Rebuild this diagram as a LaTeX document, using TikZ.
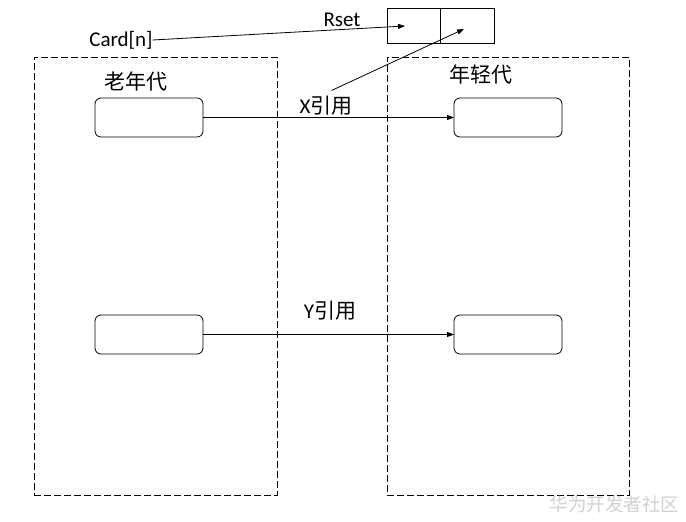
\documentclass[tikz,border=0pt]{standalone}
\usepackage{fontspec}
\setmainfont{Carlito}
\newfontfamily\cjk{Noto Sans CJK SC}
\usetikzlibrary{arrows.meta}
\begin{document}
\begin{tikzpicture}[x=1pt,y=-1pt,
  every node/.style={inner sep=0pt, outer sep=0pt},
  txt/.style={font=\fontsize{21}{24}\selectfont},
  cjktxt/.style={font=\cjk\fontsize{21}{24}\selectfont},
  region/.style={draw, line width=0.8pt, dash pattern=on 7pt off 3pt},
  objbox/.style={draw, line width=0.8pt, rounded corners=6pt, minimum width=108pt, minimum height=39pt},
  cell/.style={draw, line width=0.8pt, minimum height=35pt},
  ref/.style={line width=0.8pt, -{Triangle[length=7pt,width=5pt]}},
  wm/.style={font=\cjk\fontsize{18.5}{21}\selectfont, text=black!18}
]
\useasboundingbox (0,0) rectangle (686,522);
\fill[white] (0,0) rectangle (686,522);

% regions
\node[region, minimum width=243pt, minimum height=438pt] (old) at (155.5,276) {};
\node[region, minimum width=242pt, minimum height=438pt] (young) at (508,276) {};

% Rset cells
\node[cell, minimum width=53pt] (cellA) at (413.5,25.5) {};
\node[cell, minimum width=54pt] (cellB) at (467,25.5) {};

% labels
\node[txt] (rset) at (342,20) {Rset};
\node[txt] (card) at (121,40) {Card[n]};
\node[cjktxt] (oldlbl) at (136,81) {老年代};
\node[cjktxt] (younglbl) at (481,74) {年轻代};
\node[txt] (xlbl) at (326,106) {X{\cjk 引用}};
\node[txt] (ylbl) at (330,311) {Y{\cjk 引用}};

% object boxes
\node[objbox] (o1) at (149,117.5) {};
\node[objbox] (y1) at (508,117.5) {};
\node[objbox] (o2) at (149,334.5) {};
\node[objbox] (y2) at (508,334.5) {};

% references
\draw[ref] (o1.east) -- (y1.west);
\draw[ref] (o2.east) -- (y2.west);

% card arrows
\coordinate (cardend) at (405,26);
\coordinate (xstart) at (331.5,90.5);
\coordinate (xend) at (464,29);
\draw[ref] (card.east) -- (cardend);
\draw[ref] (xstart) -- (xend);

% watermark
\node[wm, anchor=east] (wmark) at (679,504) {华为开发者社区};
\end{tikzpicture}
\end{document}
